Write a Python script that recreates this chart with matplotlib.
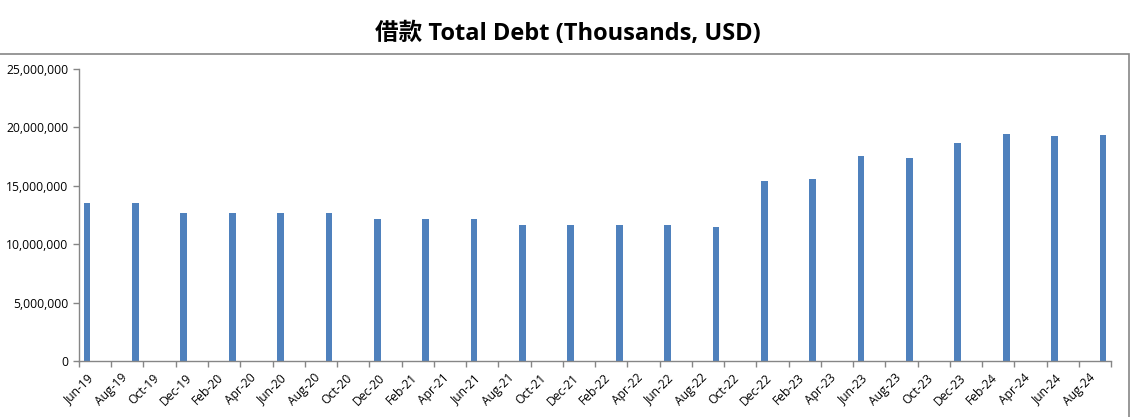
import matplotlib
matplotlib.use('Agg')
import matplotlib.pyplot as plt
import matplotlib.patches as mpatches
from matplotlib.ticker import FuncFormatter
import numpy as np
import pandas as pd

# Dados (trimestrais)
quarters = ['2019-06', '2019-09', '2019-12', '2020-03', '2020-06', '2020-09',
            '2020-12', '2021-03', '2021-06', '2021-09', '2021-12', '2022-03',
            '2022-06', '2022-09', '2022-12', '2023-03', '2023-06', '2023-09',
            '2023-12', '2024-03', '2024-06', '2024-09']
total_debt = [13500000, 13500000, 12640000, 12640000, 12640000, 12640000,
              12130000, 12130000, 12130000, 11640000, 11640000, 11640000,
              11640000, 11470000, 15380000, 15580000, 17550000, 17380000,
              18660000, 19430000, 19260000, 19350000]

# Eixo de datas mensal, rótulos a cada 2 meses
start_month = pd.Period('2019-06', freq='M')
end_month = pd.Period('2024-10', freq='M')
tick_months = pd.period_range(start_month, end_month, freq='M')[::2]
tick_labels = [m.strftime('%b-%y') for m in tick_months[:-1]] + ['']

yticks = [0, 5000000, 10000000, 15000000, 20000000, 25000000]

bar_color = '#4F81BD'
axis_color = '#868686'

months_idx = [(pd.Period(q, freq='M') - start_month).n for q in quarters]
x_pos = np.array(months_idx) + 0.5
tick_pos = [(m - start_month).n for m in tick_months]
n_months = (end_month - start_month).n

fig = plt.figure(figsize=(11.35, 4.17), dpi=100)
ax = fig.add_axes([0.0696, 0.1343, 0.9093, 0.7010])

ax.bar(x_pos, total_debt, width=0.42, color=bar_color)

ax.set_xlim(0, n_months)
ax.set_ylim(0, 25000000)
ax.set_yticks(yticks)
ax.yaxis.set_major_formatter(FuncFormatter(lambda v, p: f'{int(v):,}'))
ax.set_xticks(tick_pos)
ax.set_xticklabels(tick_labels, rotation=45, ha='center')

for s in ['top', 'right']:
    ax.spines[s].set_visible(False)
for s in ['left', 'bottom']:
    ax.spines[s].set_color(axis_color)
    ax.spines[s].set_linewidth(1)

ax.tick_params(axis='both', colors=axis_color, length=4, width=1,
               labelcolor='black', labelsize=8.7)
for lbl in ax.get_xticklabels() + ax.get_yticklabels():
    lbl.set_family(['Open Sans', 'DejaVu Sans'])

# Moldura do gráfico
frame = mpatches.Rectangle((-0.01, -0.01), 0.9947 + 0.01, 0.8705 + 0.01,
                           transform=fig.transFigure, fill=False,
                           edgecolor=axis_color, linewidth=1.2)
fig.patches.append(frame)

fig.text(0.5, 0.919, '借款 Total Debt (Thousands, USD)', ha='center', va='center',
         fontsize=17, fontweight='bold',
         family=['Open Sans', 'Noto Sans CJK SC'])

plt.savefig('out.png', dpi=100)
plt.close()
